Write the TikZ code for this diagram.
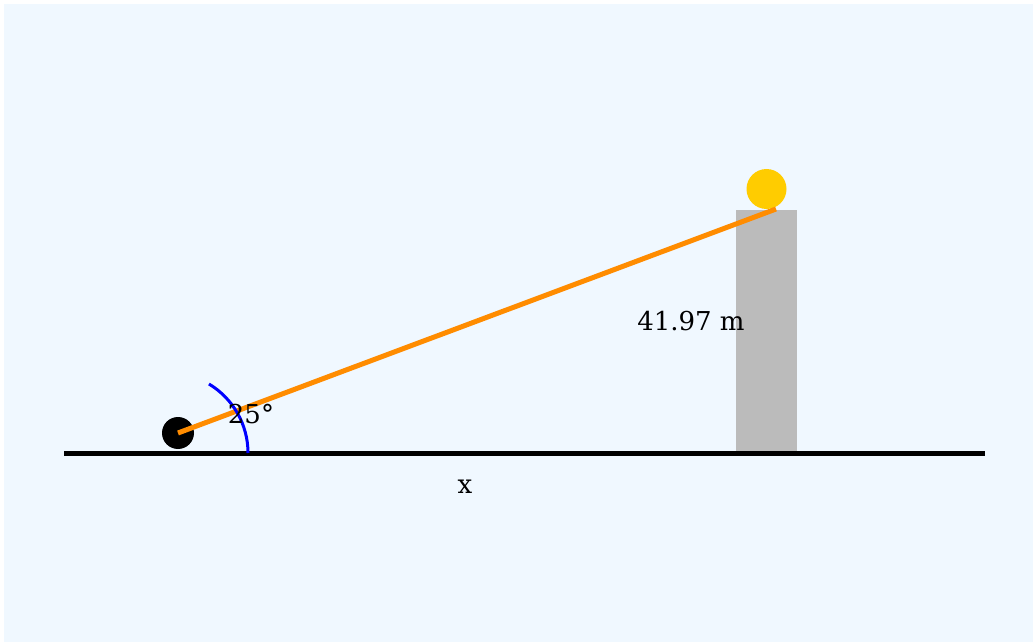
\documentclass[tikz,border=0pt]{standalone}
\usepackage{xcolor}
\usepackage{fontspec}
\setmainfont{DejaVu Serif}
\usepackage{tikz}
\usetikzlibrary{positioning}
\definecolor{skyback}{HTML}{F0F8FF}
\definecolor{ropeorange}{HTML}{FF8C00}
\definecolor{lampyellow}{HTML}{FFCC00}
\definecolor{towergray}{HTML}{BBBBBB}

\begin{document}
\begin{tikzpicture}[x=0.75pt, y=-0.75pt]
    % Styles
    \tikzstyle{label} = [inner sep=0pt, anchor=base, font=\fontsize{19.5}{23}\selectfont]
    \tikzstyle{ground} = [line width=3.75pt, black]
    \tikzstyle{sight} = [line width=3.75pt, ropeorange]
    \tikzstyle{angle} = [line width=2.25pt, blue]

    % Canvas
    \useasboundingbox (0,0) rectangle (1033,642);
    \fill[white] (0,0) rectangle (1033,642);
    \fill[skyback] (4,4) rectangle (1033,642);

    % Tower, lamp and observer
    \node [rectangle, fill=towergray, minimum width=45.75pt, minimum height=183pt,
        inner sep=0pt] (tower) at (766.5,331.5) {};
    \node [circle, fill=lampyellow, minimum size=30pt, inner sep=0pt] (lamp) at (766.5,189) {};
    \node [circle, fill=black, minimum size=24pt, inner sep=0pt] (ball) at (178,433) {};

    % Ground
    \coordinate (groundL) at (64,453);
    \coordinate (groundR) at (985,453);
    \draw [ground] (groundL) -- (groundR);

    % Line of sight
    \coordinate (top) at (776,209);
    \draw [sight] (ball.center) -- (top);

    % Angle mark
    \coordinate (arcfoot) at (248,453);
    \draw [angle] (arcfoot) arc [start angle=0, end angle=-59, radius=80.5];

    % Labels
    \node [label] (ang) at (251,423) {25°};
    \node [label] (height) at (691,330) {41.97 m};
    \node [label] (dist) at (465,493) {x};
\end{tikzpicture}
\end{document}
